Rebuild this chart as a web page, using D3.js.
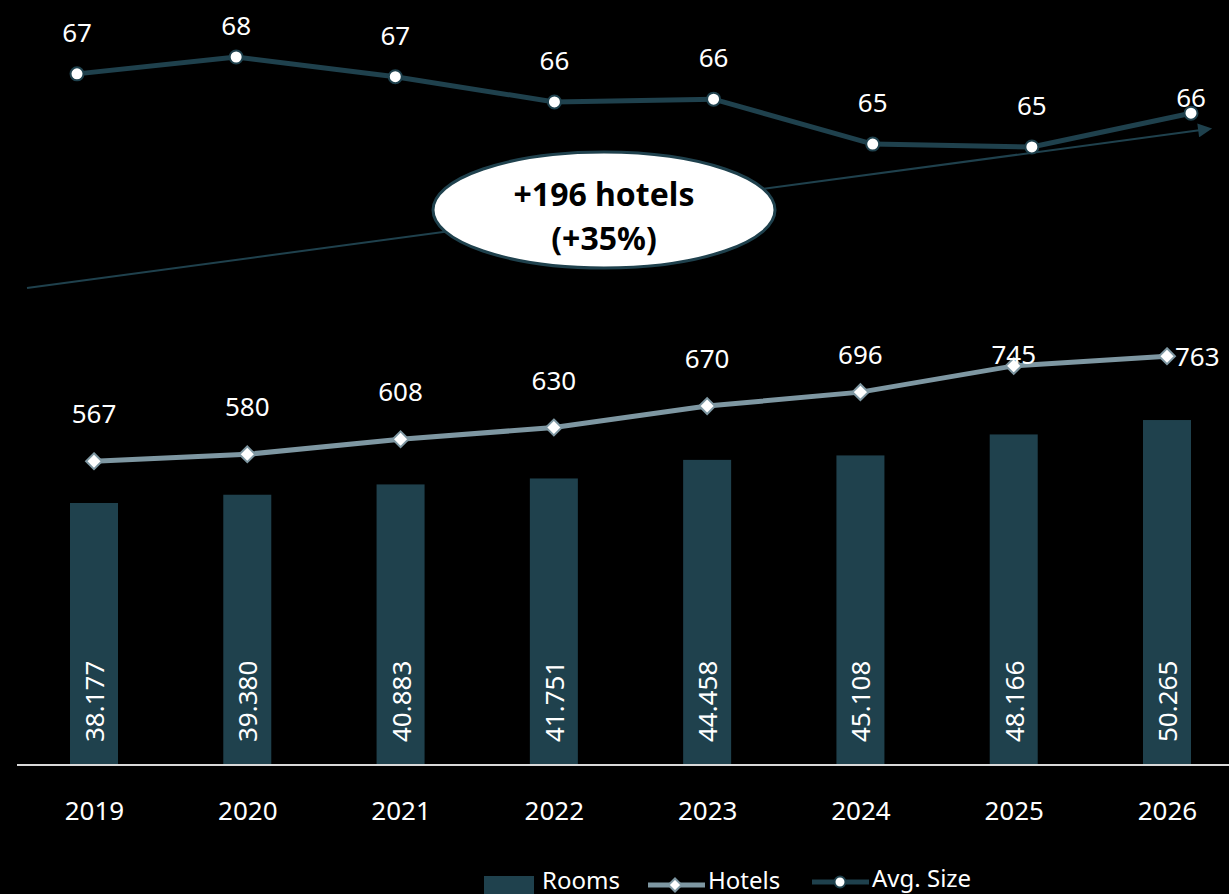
<!DOCTYPE html>
<html>
<head>
<meta charset="utf-8">
<script src="https://cdn.jsdelivr.net/npm/d3@7"></script>
<style>
  html, body { margin: 0; padding: 0; background: #000; }
  svg { display: block; font-family: "Noto Sans", "Open Sans", sans-serif; }
</style>
</head>
<body>
<svg id="chart" width="1229" height="894"></svg>
<script>
var years = ["2019", "2020", "2021", "2022", "2023", "2024", "2025", "2026"];
var rooms = [38177, 39380, 40883, 41751, 44458, 45108, 48166, 50265];
var hotels = [567, 580, 608, 630, 670, 696, 745, 763];
var avgSize = [67.3, 67.9, 67.2, 66.3, 66.4, 64.8, 64.7, 65.9];

(function () {
  var width = 1229, height = 894;
  var baseline = 765;
  var barWidth = 48;
  var dark = "#1f414d";
  var hotelGrey = "#7e97a2";
  var fs = 26;

  var svg = d3.select("#chart");

  var data = years.map(function (y, i) {
    return {year: y, rooms: rooms[i], hotels: hotels[i], avg: avgSize[i]};
  });

  var x = d3.scalePoint().domain(years).range([94, 1167]);
  var xAvg = d3.scalePoint().domain(years).range([77, 1191]);
  var yRooms = d3.scaleLinear().domain([0, 60000]).range([baseline, baseline - 60000 * 0.006863]);
  var yHotels = d3.scaleLinear().domain([0, 1428]).range([baseline, 0]);
  var yAvg = d3.scaleLinear().domain([60, 70]).range([279, -2]);

  var loc = d3.formatLocale({decimal: ",", thousands: ".", grouping: [3], currency: ["", "€"]});
  var fmtRooms = loc.format(",d");
  var fmtInt = d3.format(".0f");

  // trend arrow + ellipse annotation
  var defs = svg.append("defs");
  defs.append("marker")
      .attr("id", "arrow")
      .attr("viewBox", "0 0 10 10")
      .attr("refX", 2).attr("refY", 5)
      .attr("markerWidth", 8).attr("markerHeight", 7)
      .attr("markerUnits", "strokeWidth")
      .attr("orient", "auto")
    .append("path")
      .attr("d", "M0,0 L10,5 L0,10 Z")
      .attr("fill", dark);

  var x0 = x(years[0]) - 67, x1 = x(years[years.length - 1]) + 34;
  svg.append("line")
      .attr("x1", x0).attr("y1", 288)
      .attr("x2", x1).attr("y2", 130)
      .attr("stroke", dark)
      .attr("stroke-width", 2)
      .attr("marker-end", "url(#arrow)");

  var grow = hotels[hotels.length - 1] - hotels[0];
  var pct = Math.round(grow / hotels[0] * 100);
  var ell = svg.append("g").attr("transform", "translate(604,210)");
  ell.append("ellipse")
      .attr("rx", 171).attr("ry", 58)
      .attr("fill", "#fff")
      .attr("stroke", dark)
      .attr("stroke-width", 3);
  ell.append("text")
      .attr("y", -17)
      .attr("text-anchor", "middle")
      .attr("dominant-baseline", "central")
      .attr("font-size", 32).attr("font-weight", "bold")
      .attr("fill", "#000")
      .text("+" + grow + " hotels");
  ell.append("text")
      .attr("y", 27)
      .attr("text-anchor", "middle")
      .attr("dominant-baseline", "central")
      .attr("font-size", 32).attr("font-weight", "bold")
      .attr("fill", "#000")
      .text("(+" + pct + "%)");

  // bars
  svg.selectAll("rect.bar")
    .data(data)
    .enter().append("rect")
      .attr("class", "bar")
      .attr("x", function (d) { return x(d.year) - barWidth / 2; })
      .attr("y", function (d) { return yRooms(d.rooms); })
      .attr("width", barWidth)
      .attr("height", function (d) { return baseline - yRooms(d.rooms); })
      .attr("fill", dark);

  svg.selectAll("text.barlabel")
    .data(data)
    .enter().append("text")
      .attr("class", "barlabel")
      .attr("transform", function (d) { return "translate(" + x(d.year) + "," + (baseline - 23) + ") rotate(-90)"; })
      .attr("dominant-baseline", "central")
      .attr("font-size", fs)
      .attr("fill", "#fff")
      .text(function (d) { return fmtRooms(d.rooms); });

  // x axis
  var xaxis = d3.axisBottom(x).tickSize(0).tickPadding(37);
  var gx = svg.append("g")
      .attr("transform", "translate(0," + baseline + ")")
      .call(xaxis);
  gx.select(".domain").remove();
  gx.selectAll("text")
      .attr("font-size", fs)
      .attr("font-family", "Noto Sans, Open Sans, sans-serif")
      .attr("fill", "#fff");
  svg.append("line")
      .attr("x1", 17).attr("x2", width)
      .attr("y1", baseline).attr("y2", baseline)
      .attr("stroke", "#d9d9d9")
      .attr("stroke-width", 2);

  // hotels line
  var hotelLine = d3.line()
      .x(function (d) { return x(d.year); })
      .y(function (d) { return yHotels(d.hotels); });
  svg.append("path")
      .datum(data)
      .attr("d", hotelLine)
      .attr("fill", "none")
      .attr("stroke", hotelGrey)
      .attr("stroke-width", 5);
  svg.selectAll("path.diamond")
    .data(data)
    .enter().append("path")
      .attr("class", "diamond")
      .attr("d", d3.symbol().type(d3.symbolDiamond2).size(160))
      .attr("transform", function (d) { return "translate(" + x(d.year) + "," + yHotels(d.hotels) + ")"; })
      .attr("fill", "#fff")
      .attr("stroke", hotelGrey)
      .attr("stroke-width", 2);
  svg.selectAll("text.hlabel")
    .data(data)
    .enter().append("text")
      .attr("class", "hlabel")
      .attr("x", function (d, i) { return i === data.length - 1 ? x(d.year) + 8 : x(d.year); })
      .attr("y", function (d, i) {
        var py = yHotels(d.hotels);
        return i === data.length - 1 ? py : Math.max(354, py - 48);
      })
      .attr("text-anchor", function (d, i) { return i === data.length - 1 ? "start" : "middle"; })
      .attr("dominant-baseline", "central")
      .attr("font-size", fs)
      .attr("fill", "#fff")
      .text(function (d) { return d.hotels; });

  // avg size line
  var avgLine = d3.line()
      .x(function (d) { return xAvg(d.year); })
      .y(function (d) { return yAvg(d.avg); });
  svg.append("path")
      .datum(data)
      .attr("d", avgLine)
      .attr("fill", "none")
      .attr("stroke", dark)
      .attr("stroke-width", 5);
  svg.selectAll("circle.avg")
    .data(data)
    .enter().append("circle")
      .attr("class", "avg")
      .attr("cx", function (d) { return xAvg(d.year); })
      .attr("cy", function (d) { return yAvg(d.avg); })
      .attr("r", 6.5)
      .attr("fill", "#fff")
      .attr("stroke", dark)
      .attr("stroke-width", 2);
  svg.selectAll("text.alabel")
    .data(data)
    .enter().append("text")
      .attr("class", "alabel")
      .attr("x", function (d) { return xAvg(d.year); })
      .attr("y", function (d, i) {
        var py = yAvg(d.avg);
        return i === data.length - 1 ? py - 16 : Math.max(25, py - 42);
      })
      .attr("text-anchor", "middle")
      .attr("dominant-baseline", "central")
      .attr("font-size", fs)
      .attr("fill", "#fff")
      .text(function (d) { return fmtInt(d.avg); });

  // legend
  var lg = svg.append("g").attr("transform", "translate(0,879)");
  lg.append("rect")
      .attr("x", 484).attr("y", -3)
      .attr("width", 50).attr("height", 20)
      .attr("fill", dark);
  lg.append("text").attr("x", 542).attr("y", 0)
      .attr("dominant-baseline", "central")
      .attr("font-size", 24).attr("fill", "#fff").text("Rooms");

  lg.append("line")
      .attr("x1", 648).attr("x2", 705).attr("y1", 6).attr("y2", 6)
      .attr("stroke", hotelGrey).attr("stroke-width", 5);
  lg.append("path")
      .attr("d", d3.symbol().type(d3.symbolDiamond2).size(110))
      .attr("transform", "translate(675,6)")
      .attr("fill", "#fff").attr("stroke", hotelGrey).attr("stroke-width", 2);
  lg.append("text").attr("x", 708).attr("y", 0)
      .attr("dominant-baseline", "central")
      .attr("font-size", 24).attr("fill", "#fff").text("Hotels");

  lg.append("line")
      .attr("x1", 812).attr("x2", 869).attr("y1", 3).attr("y2", 3)
      .attr("stroke", dark).attr("stroke-width", 5);
  lg.append("circle")
      .attr("cx", 840).attr("cy", 3).attr("r", 5.5)
      .attr("fill", "#fff").attr("stroke", dark).attr("stroke-width", 2);
  lg.append("text").attr("x", 872).attr("y", -2)
      .attr("dominant-baseline", "central")
      .attr("font-size", 24).attr("fill", "#fff").text("Avg. Size");
})();
</script>
</body>
</html>
